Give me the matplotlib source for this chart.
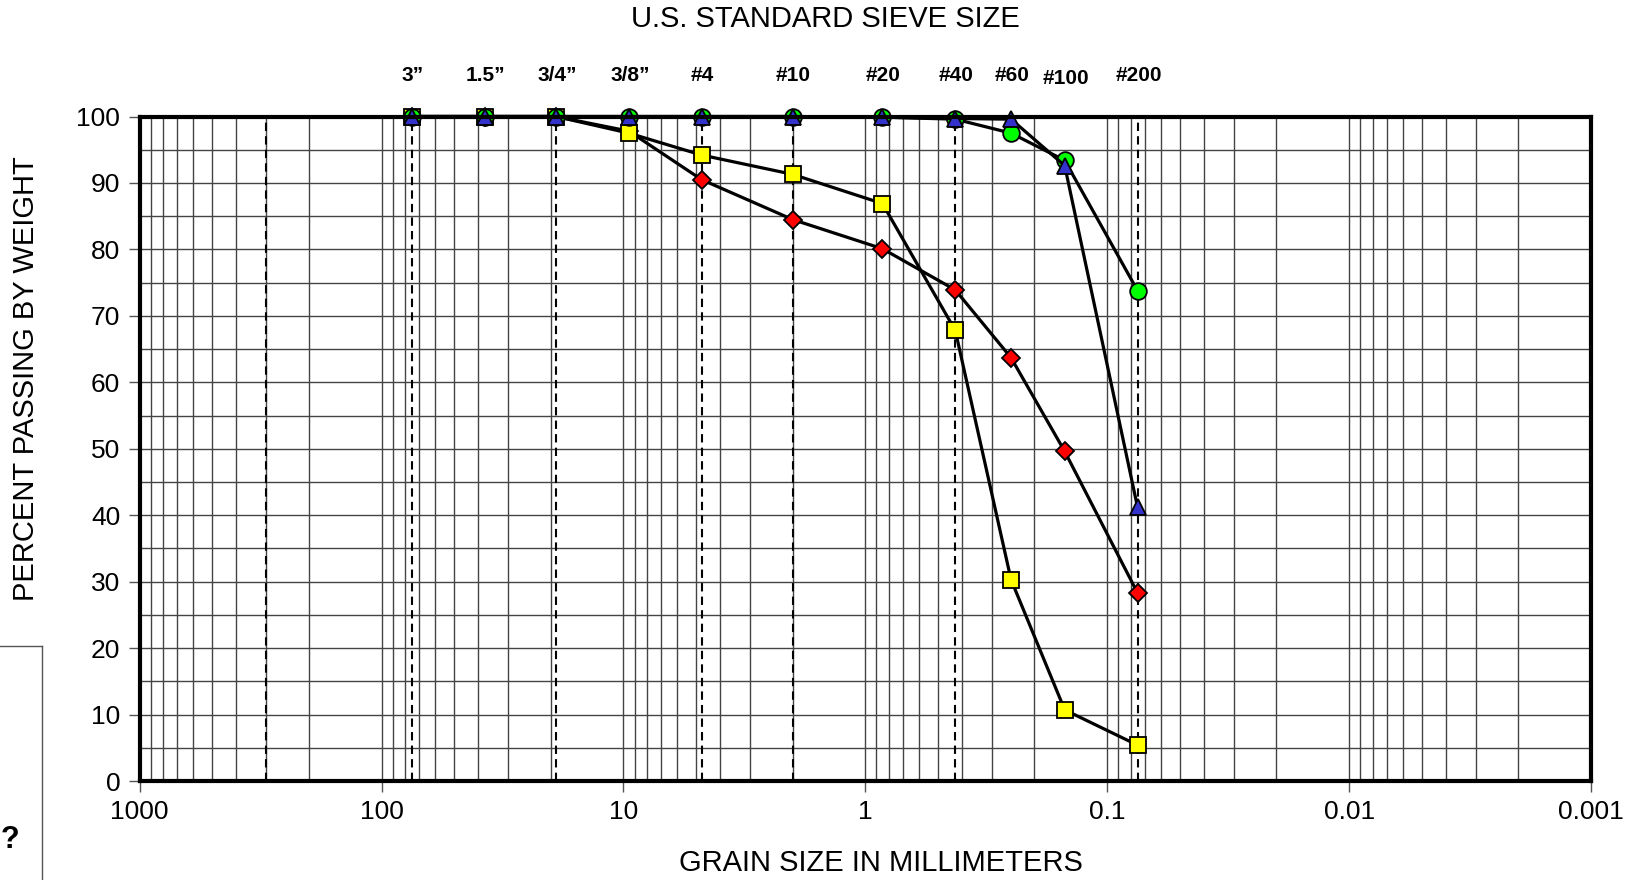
import numpy as np
import matplotlib
matplotlib.use("Agg")
import matplotlib.pyplot as plt
from matplotlib.ticker import FixedLocator, NullFormatter
import matplotlib.transforms as mtransforms

plt.rcParams['font.family'] = ['Liberation Sans', 'DejaVu Sans']

# tamanhos das peneiras (mm) e rótulos
sieve_mm = [75, 37.5, 19, 9.5, 4.75, 2.0, 0.85, 0.425, 0.25, 0.15, 0.075]
sieve_labels = ['3\u201d', '1.5\u201d', '3/4\u201d', '3/8\u201d', '#4', '#10', '#20',
                '#40', '#60', '#100', '#200']
dashed_mm = [300, 75, 19, 4.75, 2.0, 0.425, 0.075]

# porcentagem passante de cada amostra
pct_yellow = [100, 100, 100, 97.5, 94.2, 91.3, 86.9, 67.8, 30.3, 10.7, 5.4]
pct_red = [100, 100, 100, 97.8, 90.5, 84.5, 80.1, 73.9, 63.7, 49.6, 28.3]
pct_green = [100, 100, 100, 100, 100, 100, 99.9, 99.6, 97.5, 93.4, 73.8]
pct_blue = [100, 100, 100, 100, 100, 100, 99.9, 99.7, 99.6, 92.6, 41.2]

fig = plt.figure(figsize=(16.46, 8.8), dpi=100)
ax = fig.add_axes([0.0848, 0.1125, 0.8819, 0.7551])

ax.set_xscale('log')
ax.set_xlim(1000, 0.001)
ax.set_ylim(0, 100)

# grade
minor = [m * 10.0 ** e for e in range(-3, 3) for m in range(2, 10)]
ax.xaxis.set_minor_locator(FixedLocator(minor))
ax.xaxis.set_minor_formatter(NullFormatter())
ax.set_xticks([1000, 100, 10, 1, 0.1, 0.01, 0.001])
ax.set_xticklabels(['1000', '100', '10', '1', '0.1', '0.01', '0.001'])
ax.set_yticks(np.arange(0, 101, 10))
ax.yaxis.set_minor_locator(FixedLocator(np.arange(5, 100, 10)))
ax.grid(which='both', axis='both', color='#444444', linewidth=1.0)
ax.tick_params(which='major', direction='out', length=8, width=1, labelsize=19,
               color='#555555', pad=6)
ax.tick_params(which='minor', length=0)
ax.set_axisbelow(True)
for s in ax.spines.values():
    s.set_linewidth(3)

for d in dashed_mm:
    ax.axvline(d, color='black', linestyle=(0, (4, 2.5)), linewidth=1.5, zorder=1.5)

style = dict(color='black', linewidth=2.3, markeredgecolor='black',
             markeredgewidth=1.3, clip_on=False)
ax.plot(sieve_mm, pct_red, marker='D', markersize=9, markerfacecolor='#ff0000', **style)
ax.plot(sieve_mm, pct_yellow, marker='s', markersize=12, markerfacecolor='#ffff00', **style)
ax.plot(sieve_mm, pct_green, marker='o', markersize=12, markerfacecolor='#00ff00', **style)
ax.plot(sieve_mm, pct_blue, marker='^', markersize=12, markerfacecolor='#3333cc', **style)

# rótulos das peneiras no topo
trans = mtransforms.blended_transform_factory(ax.transData, fig.transFigure)
for x, lab in zip(sieve_mm, sieve_labels):
    yy = 0.911 if lab == '#100' else 0.914
    ax.text(x * 0.99, yy, lab, transform=trans, ha='center', va='center',
            fontsize=15, fontweight='bold')

fig.text(0.5015, 0.978, 'U.S. STANDARD SIEVE SIZE', ha='center', va='center', fontsize=21)
fig.text(0.5355, 0.019, 'GRAIN SIZE IN MILLIMETERS', ha='center', va='center', fontsize=21)
fig.text(0.016, 0.57, 'PERCENT PASSING BY WEIGHT', rotation=90, ha='center',
         va='center', fontsize=21)

# caixa cortada no canto inferior esquerdo
fig.add_artist(plt.Line2D([0, 0.0258], [0.266, 0.266], color='#555555', linewidth=1))
fig.add_artist(plt.Line2D([0.0258, 0.0258], [0, 0.266], color='#555555', linewidth=1))
fig.text(0.006, 0.045, '?', fontsize=22, fontweight='bold', ha='center', va='center')

fig.savefig('out.png', dpi=100)
